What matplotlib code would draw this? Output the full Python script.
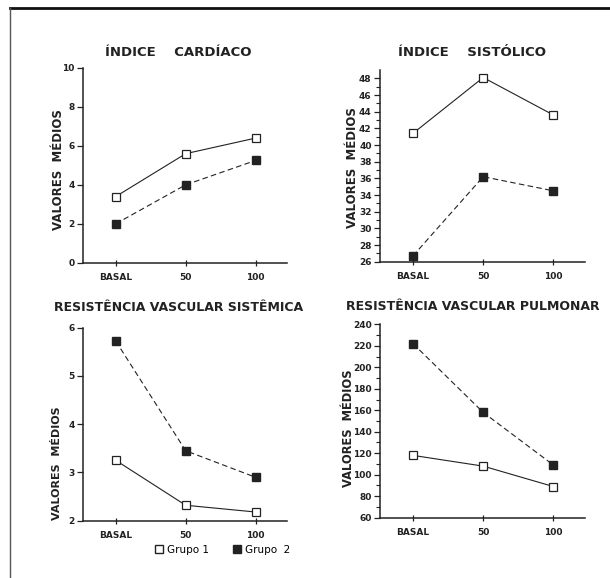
import numpy as np
import matplotlib
matplotlib.use('Agg')
import matplotlib.pyplot as plt
from matplotlib.lines import Line2D

# dados
doses = ['BASAL', '50', '100']

ic_g1 = [3.4, 5.6, 6.4]
ic_g2 = [2.0, 4.0, 5.25]

is_g1 = [41.4, 48.1, 43.6]
is_g2 = [26.7, 36.2, 34.5]

rvs_g1 = [3.25, 2.32, 2.18]
rvs_g2 = [5.72, 3.45, 2.9]

rvp_g1 = [118, 108, 89]
rvp_g2 = [222, 158, 109]

W, H = 610, 578
fig = plt.figure(figsize=(W/100, H/100), dpi=100)
plt.rcParams['font.family'] = ['DejaVu Sans']

ink = '#222222'

def box(x0, y0, x1, y1):
    # pixel coords (top-left origin) -> figure fraction
    return [x0/W, 1 - y1/H, (x1-x0)/W, (y1-y0)/H]

def panel(rect, g1, g2, ylim, major, minor, title, title_xy, title_size, ylab_xy, ylab_size):
    ax = fig.add_axes(box(*rect))
    x = np.arange(len(doses))
    ax.plot(x, g1, color=ink, lw=0.8, ls='-', marker='s', ms=5.5,
            mfc='white', mec=ink, mew=0.9, clip_on=False)
    ax.plot(x, g2, color=ink, lw=0.8, ls=(0, (5, 3)), marker='s', ms=5.5,
            mfc=ink, mec=ink, clip_on=False)
    ax.set_xlim(-0.47, 2.45)
    ax.set_ylim(*ylim)
    ax.set_xticks(x)
    ax.set_xticklabels(doses)
    ax.set_yticks(major)
    if minor is not None:
        ax.set_yticks(minor, minor=True)
    for s in ['top', 'right']:
        ax.spines[s].set_visible(False)
    for s in ['left', 'bottom']:
        ax.spines[s].set_linewidth(1.1)
        ax.spines[s].set_color(ink)
    ax.tick_params(axis='both', which='major', length=4, width=0.9, colors=ink,
                   labelsize=6.5, pad=2)
    ax.tick_params(axis='y', which='minor', length=3, width=0.8, colors=ink)
    ax.tick_params(axis='x', length=5, direction='inout', pad=5)
    for lab in ax.get_xticklabels() + ax.get_yticklabels():
        lab.set_fontweight('bold')
    fig.text(title_xy[0]/W, 1 - title_xy[1]/H, title, ha='center', va='center',
             fontsize=title_size, fontweight='bold', color=ink)
    fig.text(ylab_xy[0]/W, 1 - ylab_xy[1]/H, 'VALORES  MÉDIOS', rotation=90,
             ha='center', va='center', fontsize=ylab_size, fontweight='bold', color=ink)
    return ax

panel((83, 68, 287, 262.7), ic_g1, ic_g2, (0, 10), np.arange(0, 11, 2), None,
      'ÍNDICE    CARDÍACO', (178, 52), 9.5, (58, 170), 8.5)
panel((380, 70, 585, 261.7), is_g1, is_g2, (26, 49), np.arange(26, 49, 2), np.arange(27, 49, 2),
      'ÍNDICE    SISTÓLICO', (472, 52), 9.5, (352, 168), 8.5)
panel((83, 327.7, 287, 520.7), rvs_g1, rvs_g2, (2, 6), np.arange(2, 7, 1), None,
      'RESISTÊNCIA VASCULAR SISTÊMICA', (179, 308), 9, (57, 463), 8)
panel((380, 324.3, 585, 517.7), rvp_g1, rvp_g2, (60, 240), np.arange(60, 241, 20), np.arange(70, 240, 20),
      'RESISTÊNCIA VASCULAR PULMONAR', (473, 307), 9, (348, 428), 8.3)

# legenda
handles = [Line2D([], [], ls='none', marker='s', ms=5.5, mfc='white', mec=ink),
           Line2D([], [], ls='none', marker='s', ms=5.5, mfc=ink, mec=ink)]
fig.legend(handles, ['Grupo 1', 'Grupo  2'], loc='center', bbox_to_anchor=(222/W, 1 - 550/H),
           ncol=2, frameon=False, fontsize=7.5, handletextpad=0.3, columnspacing=2.2,
           handlelength=1.0)

# moldura da página
fig.add_artist(Line2D([10/W, 1], [1 - 8/H, 1 - 8/H], color='#111111', lw=2.0))
fig.add_artist(Line2D([10/W, 10/W], [1 - 8/H, 0], color='#555555', lw=1.0))

fig.savefig('out.png', dpi=100, facecolor='white')
